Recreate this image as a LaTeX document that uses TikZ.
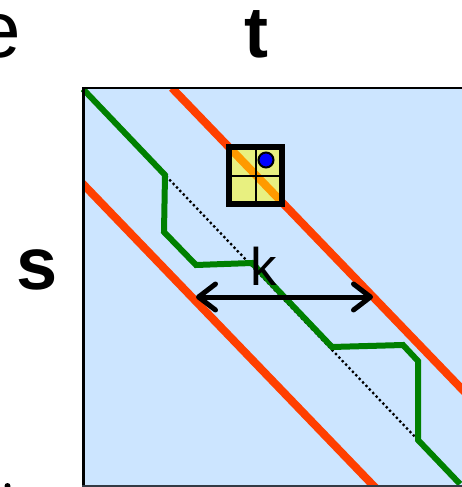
\documentclass[tikz,border=0pt]{standalone}
\usepackage{fontspec}
\setmainfont{Liberation Sans}
\usetikzlibrary{arrows.meta}
\definecolor{bgblue}{HTML}{CCE5FF}
\definecolor{bandred}{HTML}{FF3F00}
\definecolor{pathgreen}{HTML}{008000}
\definecolor{cellyellow}{HTML}{E8F080}
\definecolor{cellorange}{HTML}{FF9A00}
\definecolor{bordergray}{HTML}{333A44}
\tikzset{
  band/.style={bandred, line width=8pt},
  warp/.style={pathgreen, line width=6pt},
  diag/.style={black, line width=2.3pt, dash pattern=on 2.3pt off 2.6pt},
  label/.style={inner sep=0pt, text=black},
  kwidth/.style={black, line width=5pt, {Straight Barb[length=17pt,width=26pt,round]}-{Straight Barb[length=17pt,width=26pt,round]}}
}
\begin{document}
\begin{tikzpicture}[x=1pt,y=-1pt]
\useasboundingbox (0,0) rectangle (462,487);
\begin{scope}
\clip (0,0) rectangle (462,487);
% matrix area
\fill[bgblue] (83,88) rectangle (500,486);
% red band lines
\begin{scope}
\clip (83,88) rectangle (500,486);
\coordinate (ua) at (172,88);
\coordinate (ub) at (482,410);
\coordinate (la) at (82,183);
\coordinate (lb) at (392,505);
\draw[band] (ua) -- (ub);
\draw[band] (la) -- (lb);
\end{scope}
% dotted diagonal
\coordinate (d1) at (166,176);
\coordinate (d2) at (418,440);
\draw[diag] (d1) -- (d2);
% green warping path
\draw[warp] (83,89) -- (165,175) -- (164,232) -- (196,265) -- (252,263) -- (332,347) -- (403,345) -- (418,361) -- (418,440) -- (460,484);
% borders
\draw[black, line width=2pt] (82,88) -- (500,88);
\draw[black, line width=3pt] (83,87) -- (83,487);
\draw[bordergray, line width=2pt] (82,486) -- (500,486);
% cell
\fill[cellyellow] (229,147) rectangle (282,204);
\begin{scope}
\clip (229,147) rectangle (282,204);
\draw[cellorange, line width=8pt] (ua) -- (ub);
\end{scope}
\draw[black, line width=2.5pt] (256,147) -- (256,204);
\draw[black, line width=2.5pt] (229,176) -- (282,176);
\node[draw=black, line width=6pt, minimum width=53pt, minimum height=57pt, inner sep=0pt] (cell) at (255.5,175.5) {};
\node[circle, fill=blue, draw=black, line width=2pt, minimum size=15pt, inner sep=0pt] (dot) at (266,160) {};
% k arrow
\coordinate (kl) at (196,297);
\coordinate (kr) at (373,297);
\draw[kwidth] (kl) -- (kr);
\node[label, anchor=base west, font=\fontsize{53}{53}\selectfont] (k) at (250,285) {k};
% labels
\node[label, anchor=base, font=\fontsize{72}{72}\selectfont\bfseries] (t) at (256,58) {t};
\node[label, anchor=base, font=\fontsize{74}{74}\selectfont\bfseries] (s) at (37,289) {s};
\node[label, anchor=base east, font=\fontsize{80}{80}\selectfont] (e) at (21,58) {e};
\fill[black] (7.5,486) circle (3pt);
\end{scope}
\end{tikzpicture}
\end{document}
